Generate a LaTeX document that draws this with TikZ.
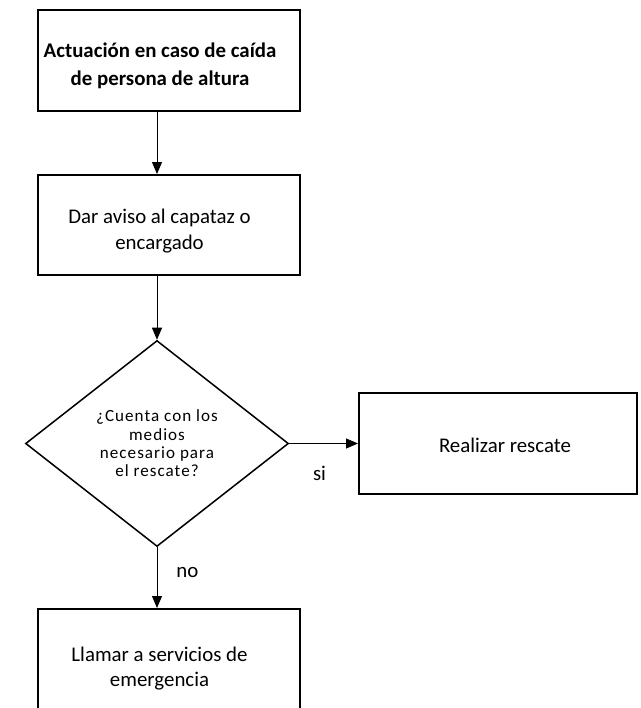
\documentclass[tikz,border=0pt]{standalone}
\usepackage{fontspec}
\setmainfont{Carlito}
\newfontfamily\rombofont[LetterSpace=6]{Carlito}
\usetikzlibrary{shapes.geometric}
\usetikzlibrary{arrows.meta}
\newcommand{\pxu}{0.527pt}

\begin{document}
\begin{tikzpicture}[x=\pxu, y=-\pxu,
  caja/.style={draw, line width=1.05pt, minimum width=262*\pxu, minimum height=101*\pxu, inner sep=0pt},
  rombo/.style={draw, diamond, line width=0.8pt, minimum width=263*\pxu, minimum height=206*\pxu, inner sep=0pt, align=center, font=\rombofont\fontsize{9}{9.7}\selectfont},
  flecha/.style={line width=0.5pt, -{Triangle[length=12*\pxu, width=10*\pxu]}},
  texto/.style={align=center, font=\fontsize{11}{13.4}\selectfont}]
\clip (0,0) rectangle (640,708);
% cajas
\node[caja, label={[texto, font=\fontsize{11}{14.6}\selectfont\bfseries, xshift=-9*\pxu, yshift=-5.5*\pxu]center:{Actuación en caso de caída\\de persona de altura}}] (inicio) at (169,60.5) {};
\node[caja, minimum height=100*\pxu, label={[texto, xshift=-9.5*\pxu, yshift=-6*\pxu]center:{Dar aviso al capataz o\\encargado}}] (aviso) at (169,225) {};
\node[rombo] (pregunta) at (157,443.5) {¿Cuenta con los\\medios\\necesario para\\el rescate?};
\node[caja, minimum width=278*\pxu, label={[texto, xshift=7*\pxu, yshift=-1.5*\pxu]center:{Realizar rescate}}] (rescate) at (498,443.5) {};
\node[caja, minimum height=110*\pxu, label={[texto, xshift=-9.5*\pxu, yshift=-4.5*\pxu]center:{Llamar a servicios de\\emergencia}}] (llamar) at (169,664) {};
% flechas
\draw[flecha] (inicio.south -| pregunta.north) -- (aviso.north -| pregunta.north);
\draw[flecha] (aviso.south -| pregunta.north) -- (pregunta.north);
\draw[flecha] (pregunta.east) -- (rescate.west) node[texto, pos=0.44, yshift=-15.5pt] (si) {si};
\draw[flecha] (pregunta.south) -- (llamar.north -| pregunta.south) node[texto, pos=0.41, xshift=16pt] (no) {no};
\end{tikzpicture}
\end{document}
